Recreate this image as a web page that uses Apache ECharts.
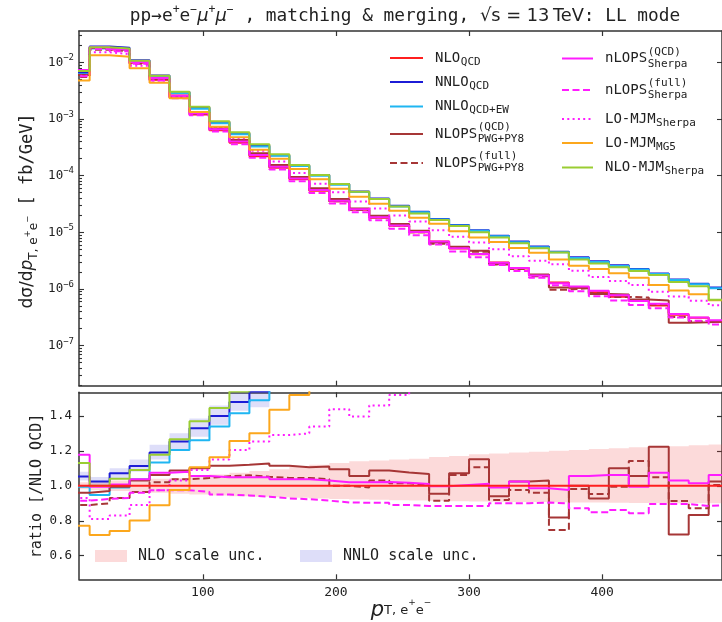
<!DOCTYPE html>
<html>
<head>
<meta charset="utf-8">
<script src="https://cdn.jsdelivr.net/npm/echarts@6/dist/echarts.min.js"></script>
<style>
  html, body { margin: 0; padding: 0; background: #ffffff; }
  #chart { width: 722px; height: 622px; }
</style>
</head>
<body>
<div id="chart"></div>
<script>
// ---- binning (GeV) ----
const binEdges = [0, 15, 30, 45, 60, 75, 90, 105, 120, 135, 150, 165, 180, 195, 210, 225, 240,
  255, 270, 285, 300, 315, 330, 345, 360, 375, 390, 405, 420, 435, 450, 465, 480, 495];

// ---- NLO QCD reference distribution, dsigma/dpT [fb/GeV] ----
const nloQcd = [6.2e-3, 1.85e-2, 1.68e-2, 9.8e-3, 4.9e-3, 2.38e-3, 1.2e-3, 6.3e-4, 3.8e-4, 2.2e-4,
  1.38e-4, 8.6e-5, 5.4e-5, 3.55e-5, 2.5e-5, 1.8e-5, 1.3e-5, 1.0e-5, 6.9e-6, 5.2e-6, 4.1e-6,
  2.95e-6, 2.3e-6, 1.75e-6, 1.3e-6, 1.05e-6, 8.8e-7, 7.3e-7, 6.2e-7, 5.1e-7, 3.5e-7, 3.1e-7, 2.65e-7];

// ---- ratios to NLO QCD ----
const rNnloQcd = [1.053, 1.025, 1.072, 1.113, 1.19, 1.253, 1.33, 1.40, 1.48, 1.54, 1.66, 1.76, 1.90,
  2.0, 2.1, 2.2, 2.26, 2.3, 2.5, 2.6, 2.66, 2.95, 3.0, 3.2, 3.5, 3.45, 3.5, 3.6, 3.65, 3.7, 4.2, 4.0, 4.0];
const rNnloQcdEw = [0.995, 0.948, 0.99, 1.037, 1.133, 1.205, 1.26, 1.34, 1.415, 1.49, 1.62, 1.72, 1.85,
  1.95, 2.05, 2.15, 2.2, 2.25, 2.45, 2.55, 2.6, 2.88, 2.92, 3.12, 3.42, 3.35, 3.42, 3.5, 3.55, 3.6, 4.1, 3.9, 3.9];
const rNlopsPwgQcd = [0.96, 0.97, 0.995, 1.03, 1.062, 1.087, 1.10, 1.115, 1.12, 1.128, 1.115, 1.106, 1.11,
  1.094, 1.056, 1.087, 1.076, 1.068, 0.955, 1.072, 1.152, 0.94, 1.024, 1.03, 0.818, 1.0, 0.928, 1.10,
  1.056, 1.224, 0.722, 0.833, 1.024];
const rNlopsPwgFull = [0.89, 0.90, 0.93, 0.965, 1.02, 1.037, 1.045, 1.055, 1.06, 1.052, 1.045, 1.045, 1.037,
  1.0, 0.99, 1.03, 1.014, 1.005, 0.915, 1.062, 1.106, 0.919, 0.976, 0.96, 0.747, 0.982, 0.953, 0.995,
  1.142, 1.049, 0.913, 0.871, 1.005];
const rNlopsSherpaQcd = [1.177, 0.995, 1.008, 1.037, 1.075, 1.081, 1.056, 1.049, 1.049, 1.049, 1.037, 1.037,
  1.03, 1.02, 1.02, 1.022, 1.018, 1.01, 0.997, 1.005, 1.012, 0.99, 1.024, 0.986, 0.976, 1.056, 1.062,
  1.062, 0.995, 1.075, 1.03, 1.014, 1.062];
const rNlopsSherpaFull = [0.915, 0.925, 0.93, 0.96, 0.975, 0.975, 0.965, 0.95, 0.945, 0.938, 0.928, 0.923,
  0.915, 0.905, 0.903, 0.903, 0.89, 0.885, 0.885, 0.885, 0.885, 0.90, 0.90, 0.904, 0.90, 0.871, 0.848,
  0.862, 0.843, 0.896, 0.896, 0.885, 0.89];
const rLoMjmSherpa = [0.93, 0.81, 0.83, 0.89, 0.975, 1.03, 1.09, 1.15, 1.205, 1.253, 1.29, 1.30, 1.339,
  1.438, 1.396, 1.46, 1.52, 1.56, 1.58, 1.6, 1.62, 1.7, 1.65, 1.8, 2.1, 2.0, 1.85, 1.9, 1.9, 1.75, 2.1, 2.0, 1.95];
const rLoMjmMg5 = [0.772, 0.718, 0.742, 0.802, 0.889, 0.976, 1.106, 1.163, 1.257, 1.30, 1.435, 1.52, 1.6,
  1.65, 1.7, 1.78, 1.84, 1.8, 2.05, 2.0, 1.97, 2.3, 2.3, 2.5, 2.55, 2.45, 2.55, 2.6, 2.55, 2.3, 2.7, 2.6, 2.4];
const rNloMjmSherpa = [1.13, 1.0, 1.04, 1.09, 1.177, 1.266, 1.37, 1.445, 1.54, 1.62, 1.72, 1.8, 1.9, 2.0,
  2.08, 2.15, 2.2, 2.15, 2.4, 2.48, 2.45, 2.75, 2.8, 3.0, 3.4, 3.15, 3.2, 3.3, 3.35, 3.45, 3.8, 3.6, 2.45];

// ---- scale-uncertainty envelopes (ratio to NLO QCD) ----
const nloBandHi = [1.02, 1.025, 1.03, 1.035, 1.04, 1.045, 1.055, 1.065, 1.075, 1.085, 1.095, 1.11, 1.12,
  1.13, 1.14, 1.145, 1.15, 1.155, 1.165, 1.17, 1.18, 1.185, 1.19, 1.195, 1.2, 1.205, 1.21, 1.215, 1.22,
  1.222, 1.227, 1.232, 1.236];
const nloBandLo = [0.98, 0.975, 0.97, 0.965, 0.96, 0.955, 0.95, 0.945, 0.94, 0.937, 0.934, 0.931, 0.928,
  0.925, 0.922, 0.92, 0.918, 0.916, 0.914, 0.912, 0.91, 0.909, 0.908, 0.907, 0.906, 0.905, 0.904, 0.903,
  0.902, 0.901, 0.90, 0.90, 0.90];
const nnloBandHi = [1.08, 1.05, 1.10, 1.15, 1.235, 1.30, 1.385, 1.46, 1.54, 1.62, 1.72];
const nnloBandLo = [1.03, 1.0, 1.045, 1.08, 1.15, 1.21, 1.28, 1.35, 1.43, 1.45, 1.58];

// ---- axes ----
const xTicks = [100, 200, 300, 400];
const yTopMajor = [1e-7, 1e-6, 1e-5, 1e-4, 1e-3, 1e-2];
const ratioTicks = [0.6, 0.8, 1.0, 1.2, 1.4];
const X_MIN = 7, X_MAX = 490;
const Y_TOP_MIN = 1.968e-8, Y_TOP_MAX = 0.03565;
const R_MIN = 0.465, R_MAX = 1.535;

const yTopMinor = [];
for (let e = -8; e <= -2; e++) {
  for (let k = 2; k <= 9; k++) {
    const v = k * Math.pow(10, e);
    if (v > Y_TOP_MIN && v < Y_TOP_MAX) yTopMinor.push(v);
  }
}

const MONO = 'DejaVu Sans Mono';
const SANS = 'DejaVu Sans';
const AXIS_COLOR = '#333333';
const TEXT_COLOR = '#222222';

// ---- curve styles ----
const nloRatio = nloQcd.map((v, i) => v / nloQcd[i]);
const curves = [
  { id: 'nlo',   ratio: nloRatio,         color: '#ff1f1f', dash: 'solid' },
  { id: 'nnlo',  ratio: rNnloQcd,         color: '#1c1cd6', dash: 'solid' },
  { id: 'nnloew',ratio: rNnloQcdEw,       color: '#1fb6f2', dash: 'solid' },
  { id: 'pwgq',  ratio: rNlopsPwgQcd,     color: '#a63636', dash: 'solid' },
  { id: 'pwgf',  ratio: rNlopsPwgFull,    color: '#a63636', dash: [7, 3.5] },
  { id: 'shq',   ratio: rNlopsSherpaQcd,  color: '#ff1cff', dash: 'solid' },
  { id: 'shf',   ratio: rNlopsSherpaFull, color: '#ff1cff', dash: [7, 3.5] },
  { id: 'mjms',  ratio: rLoMjmSherpa,     color: '#ff1cff', dash: [2, 3.3] },
  { id: 'mg5',   ratio: rLoMjmMg5,        color: '#fca71c', dash: 'solid' },
  { id: 'nlomjm',ratio: rNloMjmSherpa,    color: '#9acd32', dash: 'solid' }
];

function stepPoints(vals) {
  const pts = vals.map((v, i) => [binEdges[i], v]);
  pts.push([binEdges[vals.length], vals[vals.length - 1]]);
  return pts;
}

function lineSeries(vals, c, xi, yi, z) {
  return {
    type: 'line', xAxisIndex: xi, yAxisIndex: yi, step: 'end',
    symbol: 'none', showSymbol: false, silent: true, animation: false,
    emphasis: { disabled: true }, clip: true, z: z,
    data: stepPoints(vals),
    lineStyle: { color: c.color, width: 2, type: c.dash, cap: 'butt' }
  };
}

function bandSeries(lo, hi, fill) {
  const n = lo.length;
  return {
    type: 'custom', xAxisIndex: 2, yAxisIndex: 3, silent: true, animation: false, z: 1,
    data: [[X_MIN, 1]],
    renderItem(params, api) {
      const pts = [];
      for (let i = 0; i < n; i++) {
        pts.push(api.coord([binEdges[i], hi[i]]), api.coord([binEdges[i + 1], hi[i]]));
      }
      for (let i = n - 1; i >= 0; i--) {
        pts.push(api.coord([binEdges[i + 1], lo[i]]), api.coord([binEdges[i], lo[i]]));
      }
      const clipped = echarts.graphic.clipPointsByRect(pts, params.coordSys);
      return { type: 'polygon', shape: { points: clipped }, style: { fill: fill } };
    }
  };
}

// ---- series ----
const series = [];
series.push(bandSeries(nloBandLo, nloBandHi, 'rgba(240,70,70,0.2)'));
series.push(bandSeries(nnloBandLo, nnloBandHi, 'rgba(90,90,225,0.2)'));
curves.forEach((c, k) => {
  const absVals = nloQcd.map((v, i) => v * c.ratio[i]);
  series.push(lineSeries(absVals, c, 0, 0, 2 + k));
  series.push(lineSeries(c.ratio, c, 2, 3, c.id === 'nlo' ? 30 : 2 + k));
});

// ---- axis builders ----
function xAxisDef(gridIndex, position, showLabels) {
  return {
    type: 'value', gridIndex, position, min: X_MIN, max: X_MAX,
    axisLine: { show: true, onZero: false, lineStyle: { color: AXIS_COLOR, width: 1.5 } },
    axisTick: { show: true, inside: true, length: 5, customValues: xTicks,
      lineStyle: { color: AXIS_COLOR, width: 1.2 } },
    axisLabel: { show: showLabels, customValues: xTicks, margin: 7,
      fontFamily: MONO, fontSize: 13, color: TEXT_COLOR },
    splitLine: { show: false }
  };
}

function logAxisDef(position, opts) {
  return {
    type: 'log', logBase: 10, gridIndex: 0, position, min: Y_TOP_MIN, max: Y_TOP_MAX,
    axisLine: { show: opts.line, onZero: false, lineStyle: { color: AXIS_COLOR, width: 1.5 } },
    axisTick: { show: true, inside: true, length: opts.tickLen, customValues: opts.ticks,
      lineStyle: { color: AXIS_COLOR, width: 1.1 } },
    axisLabel: opts.labels ? {
      show: true, customValues: yTopMajor, margin: 5,
      formatter: (v) => '{b|10}{s|\u2212' + Math.round(-Math.log10(v)) + '}',
      rich: {
        b: { fontFamily: MONO, fontSize: 12.5, color: TEXT_COLOR, lineHeight: 18 },
        s: { fontFamily: MONO, fontSize: 9, color: TEXT_COLOR, lineHeight: 10, verticalAlign: 'top' }
      }
    } : { show: false },
    splitLine: { show: false }
  };
}

function ratioAxisDef(position, showLabels) {
  return {
    type: 'value', gridIndex: 1, position, min: R_MIN, max: R_MAX,
    axisLine: { show: true, onZero: false, lineStyle: { color: AXIS_COLOR, width: 1.5 } },
    axisTick: { show: true, inside: true, length: 5, customValues: ratioTicks,
      lineStyle: { color: AXIS_COLOR, width: 1.2 } },
    axisLabel: { show: showLabels, customValues: ratioTicks, margin: 7,
      formatter: (v) => v.toFixed(1), fontFamily: MONO, fontSize: 12.5, color: TEXT_COLOR },
    splitLine: { show: false }
  };
}

// ---- text helpers ----
const CH = 0.602; // monospace advance per font-size unit
function txt(x, y, text, size, extra) {
  return {
    type: 'text', x, y, silent: true,
    style: Object.assign({
      text, fontFamily: MONO, fontSize: size, fill: TEXT_COLOR,
      align: 'left', verticalAlign: 'middle', textAlign: 'left', textVerticalAlign: 'middle'
    }, extra || {})
  };
}

function legendEntry(x0, x1, tx, y, c, main, sup, sub) {
  const out = [];
  out.push({
    type: 'line', silent: true,
    shape: { x1: x0, y1: y, x2: x1, y2: y },
    style: { stroke: c.color, lineWidth: 2, lineDash: c.dash === 'solid' ? null : c.dash }
  });
  const fs = 14, fsSmall = 11;
  out.push(txt(tx, y, main, fs));
  const sx = tx + main.length * CH * fs + 0.5;
  if (sup && sub) {
    out.push(txt(sx, y - 6.5, sup, fsSmall));
    out.push(txt(sx, y + 5.5, sub, fsSmall));
  } else if (sub) {
    out.push(txt(sx, y + 4, sub, fsSmall));
  }
  return out;
}

const cmap = {};
curves.forEach(c => { cmap[c.id] = c; });

const legendCol1 = [
  ['nlo', 'NLO', null, 'QCD', 58],
  ['nnlo', 'NNLO', null, 'QCD', 82],
  ['nnloew', 'NNLO', null, 'QCD+EW', 106.5],
  ['pwgq', 'NLOPS', '(QCD)', 'PWG+PY8', 134],
  ['pwgf', 'NLOPS', '(full)', 'PWG+PY8', 163]
];
const legendCol2 = [
  ['shq', 'nLOPS', '(QCD)', 'Sherpa', 58.5],
  ['shf', 'nLOPS', '(full)', 'Sherpa', 90],
  ['mjms', 'LO-MJM', null, 'Sherpa', 119],
  ['mg5', 'LO-MJM', null, 'MG5', 143],
  ['nlomjm', 'NLO-MJM', null, 'Sherpa', 167.5]
];

const graphics = [];
legendCol1.forEach(r => graphics.push(...legendEntry(390, 423, 435, r[4], cmap[r[0]], r[1], r[2], r[3])));
legendCol2.forEach(r => graphics.push(...legendEntry(562, 593, 605, r[4], cmap[r[0]], r[1], r[2], r[3])));

// band legend inside the ratio panel
graphics.push({ type: 'rect', silent: true, shape: { x: 95, y: 550, width: 32, height: 12 },
  style: { fill: 'rgba(240,70,70,0.2)' } });
graphics.push(txt(138, 556, 'NLO scale unc.', 15));
graphics.push({ type: 'rect', silent: true, shape: { x: 300, y: 550, width: 32, height: 12 },
  style: { fill: 'rgba(90,90,225,0.2)' } });
graphics.push(txt(343, 556, 'NNLO scale unc.', 15));

// title
graphics.push({
  type: 'text', x: 405, y: 16.5, silent: true,
  style: {
    text: '{m|pp\u2192e}{u|+}{m|e}{u|\u2212}{g|\u03bc}{u|+}{g|\u03bc}{u|\u2212}{m| , matching & merging, }{s|\u221As = 13\u2009TeV}{m|: LL mode}',
    align: 'center', verticalAlign: 'middle', textAlign: 'center', textVerticalAlign: 'middle',
    fill: TEXT_COLOR,
    rich: {
      m: { fontFamily: MONO, fontSize: 17.8, lineHeight: 24, fill: TEXT_COLOR },
      g: { fontFamily: SANS, fontStyle: 'italic', fontSize: 17.8, lineHeight: 24, fill: TEXT_COLOR },
      s: { fontFamily: SANS, fontSize: 17.8, lineHeight: 24, fill: TEXT_COLOR },
      u: { fontFamily: MONO, fontSize: 11.5, lineHeight: 12, verticalAlign: 'top', fill: TEXT_COLOR }
    }
  }
});

// y-axis title, upper panel
graphics.push({
  type: 'group', x: 28, y: 211, rotation: Math.PI / 2, silent: true,
  children: [{
    type: 'text', x: 0, y: 0,
    style: {
      text: '{d|d\u03c3/d}{p|p}{b|T, e}{c|+}{b|e}{c|\u2212}{m| [ fb/GeV]}',
      align: 'center', verticalAlign: 'middle', textAlign: 'center', textVerticalAlign: 'middle',
      fill: TEXT_COLOR,
      rich: {
        d: { fontFamily: SANS, fontSize: 17, lineHeight: 24, fill: TEXT_COLOR },
        p: { fontFamily: SANS, fontStyle: 'italic', fontSize: 17, lineHeight: 24, fill: TEXT_COLOR },
        b: { fontFamily: SANS, fontSize: 12, lineHeight: 16, verticalAlign: 'bottom', fill: TEXT_COLOR },
        c: { fontFamily: SANS, fontSize: 8.5, lineHeight: 10, verticalAlign: 'middle', fill: TEXT_COLOR },
        m: { fontFamily: MONO, fontSize: 17, lineHeight: 24, fill: TEXT_COLOR }
      }
    }
  }]
});

// y-axis title, ratio panel
graphics.push({
  type: 'group', x: 37, y: 486, rotation: Math.PI / 2, silent: true,
  children: [txt(0, 0, 'ratio [/NLO QCD]', 15, { align: 'center', textAlign: 'center' })]
});

// x-axis title
graphics.push({
  type: 'text', x: 401, y: 611, silent: true,
  style: {
    text: '{p|p}{b|T, e}{c|+}{b|e}{c|\u2212}',
    align: 'center', verticalAlign: 'middle', textAlign: 'center', textVerticalAlign: 'middle',
    fill: TEXT_COLOR,
    rich: {
      p: { fontFamily: SANS, fontStyle: 'italic', fontSize: 21, lineHeight: 26, fill: TEXT_COLOR },
      b: { fontFamily: SANS, fontSize: 13, lineHeight: 20, verticalAlign: 'middle', fill: TEXT_COLOR },
      c: { fontFamily: SANS, fontSize: 9, lineHeight: 16, verticalAlign: 'top', fill: TEXT_COLOR }
    }
  }
});

const option = {
  animation: false,
  backgroundColor: '#ffffff',
  grid: [
    { left: 79, top: 31, width: 643, height: 354.7 },
    { left: 79, top: 392.3, width: 643, height: 187 }
  ],
  xAxis: [
    xAxisDef(0, 'bottom', false),
    xAxisDef(0, 'top', false),
    xAxisDef(1, 'bottom', true),
    xAxisDef(1, 'top', false)
  ],
  yAxis: [
    logAxisDef('left', { line: true, labels: true, ticks: yTopMajor, tickLen: 5 }),
    logAxisDef('left', { line: false, labels: false, ticks: yTopMinor, tickLen: 3 }),
    logAxisDef('right', { line: true, labels: false, ticks: yTopMajor, tickLen: 5 }),
    ratioAxisDef('left', true),
    ratioAxisDef('right', false)
  ],
  series: series,
  graphic: { elements: graphics }
};

const chart = echarts.init(document.getElementById('chart'), null, { renderer: 'canvas' });
chart.setOption(option);
</script>
</body>
</html>
